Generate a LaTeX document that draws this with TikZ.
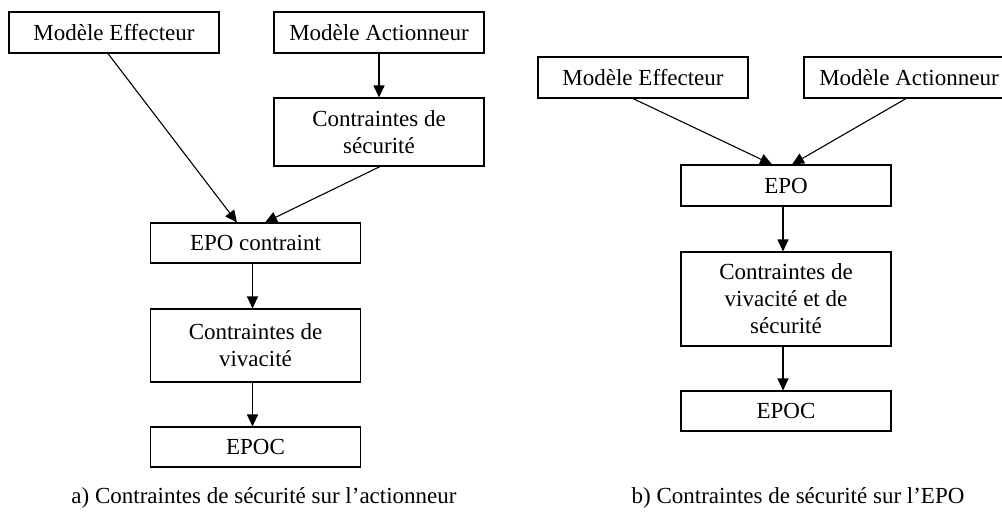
\documentclass[tikz,border=0pt]{standalone}
\usepackage{fontspec}
\setmainfont{Liberation Serif}
\usetikzlibrary{arrows.meta}
\begin{document}
\begin{tikzpicture}[x=1pt,y=-1pt,
  box/.style={draw,line width=1.1pt,inner sep=0pt,minimum width=210pt,align=center,
    font=\fontsize{23}{27}\selectfont},
  arr/.style={line width=1.1pt,-{Triangle[length=12pt,width=11pt]}},
  captxt/.style={font=\fontsize{23}{27}\selectfont}]
\useasboundingbox (0,0) rectangle (1002,512);
% left diagram
\node[box,minimum height=41pt] (me1) at (114,32.5) {Modèle Effecteur};
\node[box,minimum height=41pt] (ma1) at (379,32.5) {Modèle Actionneur};
\node[box,minimum height=68pt] (cs1) at (379,132) {Contraintes de\\sécurité};
\node[box,minimum height=40pt] (epo1) at (255.5,243) {EPO contraint};
\node[box,minimum height=73pt] (cv1) at (255.5,345.5) {Contraintes de\\vivacité};
\node[box,minimum height=40pt] (epoc1) at (255.5,447) {EPOC};
\node[captxt] (capa) at (264,498) {a) Contraintes de sécurité sur l’actionneur};
\draw[arr] ([xshift=-6pt]me1.south) -- ([xshift=-18.5pt]epo1.north);
\draw[arr] (ma1.south) -- (cs1.north);
\draw[arr] ([xshift=1pt]cs1.south) -- ([xshift=9.5pt]epo1.north);
\draw[arr] ([xshift=-3pt]epo1.south) -- ([xshift=-3pt]cv1.north);
\draw[arr] ([xshift=-3pt]cv1.south) -- ([xshift=-3pt]epoc1.north);
% right diagram
\node[box,minimum height=41pt] (me2) at (643,77.5) {Modèle Effecteur};
\node[box,minimum height=41pt] (ma2) at (909,77.5) {Modèle Actionneur};
\node[box,minimum height=41pt] (epo2) at (786,185.5) {EPO};
\node[box,minimum height=94pt] (cvs2) at (786,299) {Contraintes de\\vivacité et de\\sécurité};
\node[box,minimum height=40pt] (epoc2) at (786,411) {EPOC};
\node[captxt] (capb) at (798,498) {b) Contraintes de sécurité sur l’EPO};
\draw[arr] ([xshift=-10pt]me2.south) -- ([xshift=-14pt]epo2.north);
\draw[arr] ([xshift=-3pt]ma2.south) -- ([xshift=6pt]epo2.north);
\draw[arr] ([xshift=-3pt]epo2.south) -- ([xshift=-3pt]cvs2.north);
\draw[arr] ([xshift=-3pt]cvs2.south) -- ([xshift=-3pt]epoc2.north);
\end{tikzpicture}
\end{document}
